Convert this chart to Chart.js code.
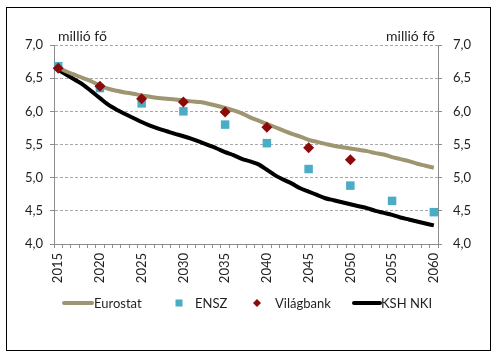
<!DOCTYPE html>
<html>
<head>
<meta charset="utf-8">
<script src="https://cdn.jsdelivr.net/npm/chart.js@4/dist/chart.umd.min.js"></script>
<style>
  html,body{margin:0;padding:0;background:#fff;}
  #wrap{position:relative;width:500px;height:359px;}
  #frame{position:absolute;left:6px;top:7px;width:483px;height:342px;border:1.5px solid #000;pointer-events:none;}
  canvas{position:absolute;left:0;top:0;}
</style>
</head>
<body>
<div id="wrap">
  <canvas id="c" width="500" height="359"></canvas>
  <div id="frame"></div>
</div>
<script>
const years = [2015,2016,2017,2018,2019,2020,2021,2022,2023,2024,2025,2026,2027,2028,2029,2030,2031,2032,2033,2034,2035,2036,2037,2038,2039,2040,2041,2042,2043,2044,2045,2046,2047,2048,2049,2050,2051,2052,2053,2054,2055,2056,2057,2058,2059,2060];
const eurostat = [6.66,6.60,6.55,6.50,6.45,6.39,6.34,6.31,6.285,6.265,6.24,6.22,6.20,6.19,6.18,6.165,6.15,6.14,6.115,6.085,6.05,6.015,5.97,5.91,5.86,5.81,5.76,5.71,5.66,5.62,5.57,5.54,5.51,5.48,5.46,5.44,5.42,5.40,5.37,5.35,5.31,5.28,5.25,5.21,5.18,5.15];
const kshNki = [6.625,6.55,6.475,6.40,6.30,6.20,6.10,6.025,5.96,5.90,5.84,5.785,5.74,5.70,5.66,5.625,5.585,5.54,5.49,5.44,5.385,5.34,5.285,5.245,5.20,5.12,5.035,4.97,4.91,4.84,4.79,4.74,4.69,4.66,4.63,4.60,4.57,4.54,4.50,4.47,4.44,4.40,4.37,4.34,4.31,4.28];
const enszYears = [2015,2020,2025,2030,2035,2040,2045,2050,2055,2060];
const ensz = [6.68,6.35,6.12,6.00,5.80,5.52,5.13,4.88,4.65,4.48];
const vilagbankYears = [2015,2020,2025,2030,2035,2040,2045,2050];
const vilagbank = [6.65,6.38,6.19,6.14,5.99,5.76,5.45,5.27];
const yTicks = [4.0,4.5,5.0,5.5,6.0,6.5,7.0];
const unitLabel = 'millió fő';

const FONT = 'Lato, "Open Sans", sans-serif';
const TEXT = '#1f1f1f';
const AXIS = '#8c8c8c';

const fmt = v => Number(v).toFixed(1).replace('.', ',');

const unitPlugin = {
  id: 'unitText',
  afterDraw(chart) {
    const {ctx, chartArea} = chart;
    ctx.save();
    ctx.font = '14px ' + FONT;
    ctx.fillStyle = TEXT;
    ctx.textBaseline = 'alphabetic';
    ctx.textAlign = 'left';
    ctx.fillText(unitLabel, chartArea.left + 4, chartArea.top - 4);
    ctx.textAlign = 'right';
    ctx.fillText(unitLabel, chartArea.right - 3, chartArea.top - 4);
    ctx.restore();
  }
};

const legendPlugin = {
  id: 'excelLegend',
  afterDraw(chart) {
    const {ctx} = chart;
    const y = 303;
    const slots = [
      {sym: 'line', x0: 64, x1: 92, tx: 94},
      {sym: 'rect', cx: 179, tx: 195},
      {sym: 'diamond', cx: 257, tx: 275},
      {sym: 'line', x0: 354, x1: 380, tx: 381}
    ];
    ctx.save();
    ctx.font = '13px ' + FONT;
    ctx.textBaseline = 'middle';
    ctx.textAlign = 'left';
    chart.data.datasets.forEach((ds, i) => {
      const s = slots[i];
      if (s.sym === 'line') {
        ctx.strokeStyle = ds.borderColor;
        ctx.lineWidth = 4;
        ctx.lineCap = 'round';
        ctx.beginPath(); ctx.moveTo(s.x0, y); ctx.lineTo(s.x1, y); ctx.stroke();
      } else if (s.sym === 'rect') {
        ctx.fillStyle = ds.pointBackgroundColor;
        ctx.fillRect(s.cx - 3.5, y - 3.5, 7, 7);
      } else {
        ctx.fillStyle = ds.pointBackgroundColor;
        ctx.beginPath();
        ctx.moveTo(s.cx, y - 4); ctx.lineTo(s.cx + 4, y); ctx.lineTo(s.cx, y + 4); ctx.lineTo(s.cx - 4, y);
        ctx.closePath(); ctx.fill();
      }
      ctx.fillStyle = TEXT;
      ctx.fillText(ds.label, s.tx, y + 1);
    });
    ctx.restore();
  }
};

const labels = years.map(String);

new Chart(document.getElementById('c'), {
  type: 'line',
  data: {
    labels: labels,
    datasets: [
      {
        label: 'Eurostat',
        data: eurostat,
        borderColor: '#9e9571',
        backgroundColor: '#9e9571',
        borderWidth: 4,
        pointRadius: 0,
        tension: 0.3,
        order: 2
      },
      {
        label: 'ENSZ',
        data: enszYears.map((yr, i) => ({x: String(yr), y: ensz[i]})),
        showLine: false,
        pointStyle: 'rect',
        pointRadius: 6,
        pointBackgroundColor: '#4bacc6',
        pointBorderColor: '#4bacc6',
        pointBorderWidth: 0,
        borderColor: '#4bacc6',
        order: 1
      },
      {
        label: 'Világbank',
        data: vilagbankYears.map((yr, i) => ({x: String(yr), y: vilagbank[i]})),
        showLine: false,
        pointStyle: 'rectRot',
        pointRadius: 5.5,
        pointBackgroundColor: '#8b0b0b',
        pointBorderColor: '#8b0b0b',
        pointBorderWidth: 0,
        borderColor: '#8b0b0b',
        order: 0
      },
      {
        label: 'KSH NKI',
        data: kshNki,
        borderColor: '#000000',
        backgroundColor: '#000000',
        borderWidth: 4,
        pointRadius: 0,
        tension: 0.3,
        order: 2
      }
    ]
  },
  options: {
    responsive: false,
    animation: false,
    events: [],
    layout: {padding: {top: 45, bottom: 0, left: 0, right: 0}},
    plugins: {legend: {display: false}, tooltip: {enabled: false}},
    scales: {
      x: {
        type: 'category',
        offset: true,
        grid: {
          offset: true,
          drawOnChartArea: false,
          drawTicks: true,
          tickLength: 4,
          tickColor: AXIS,
          color: AXIS
        },
        border: {display: true, color: AXIS, width: 1},
        ticks: {
          autoSkip: false,
          minRotation: 90,
          maxRotation: 90,
          padding: 5,
          color: TEXT,
          font: {family: FONT, size: 13},
          callback: function(val, idx) {
            return years[idx] % 5 === 0 ? String(years[idx]) : '';
          }
        },
        afterFit(scale) { scale.height = 115; }
      },
      y: {
        position: 'left',
        min: 4, max: 7,
        afterBuildTicks(scale) { scale.ticks = yTicks.map(v => ({value: v})); },
        grid: {
          color: ctx => ctx.tick && ctx.tick.value === 4 ? 'rgba(0,0,0,0)' : '#a8a8a8',
          lineWidth: 1,
          drawTicks: true,
          tickLength: 4,
          tickColor: AXIS
        },
        border: {display: true, color: AXIS, width: 1, dash: [3, 2]},
        ticks: {
          padding: 7,
          color: TEXT,
          font: {family: FONT, size: 13},
          callback: v => fmt(v)
        },
        afterFit(scale) { scale.width = 54; }
      },
      y2: {
        position: 'right',
        min: 4, max: 7,
        afterBuildTicks(scale) { scale.ticks = yTicks.map(v => ({value: v})); },
        grid: {
          drawOnChartArea: false,
          drawTicks: true,
          tickLength: 4,
          tickColor: AXIS
        },
        border: {display: true, color: AXIS, width: 1},
        ticks: {
          padding: 11,
          color: TEXT,
          font: {family: FONT, size: 13},
          callback: v => fmt(v)
        },
        afterFit(scale) { scale.width = 62; }
      }
    }
  },
  plugins: [unitPlugin, legendPlugin]
});
</script>
</body>
</html>
